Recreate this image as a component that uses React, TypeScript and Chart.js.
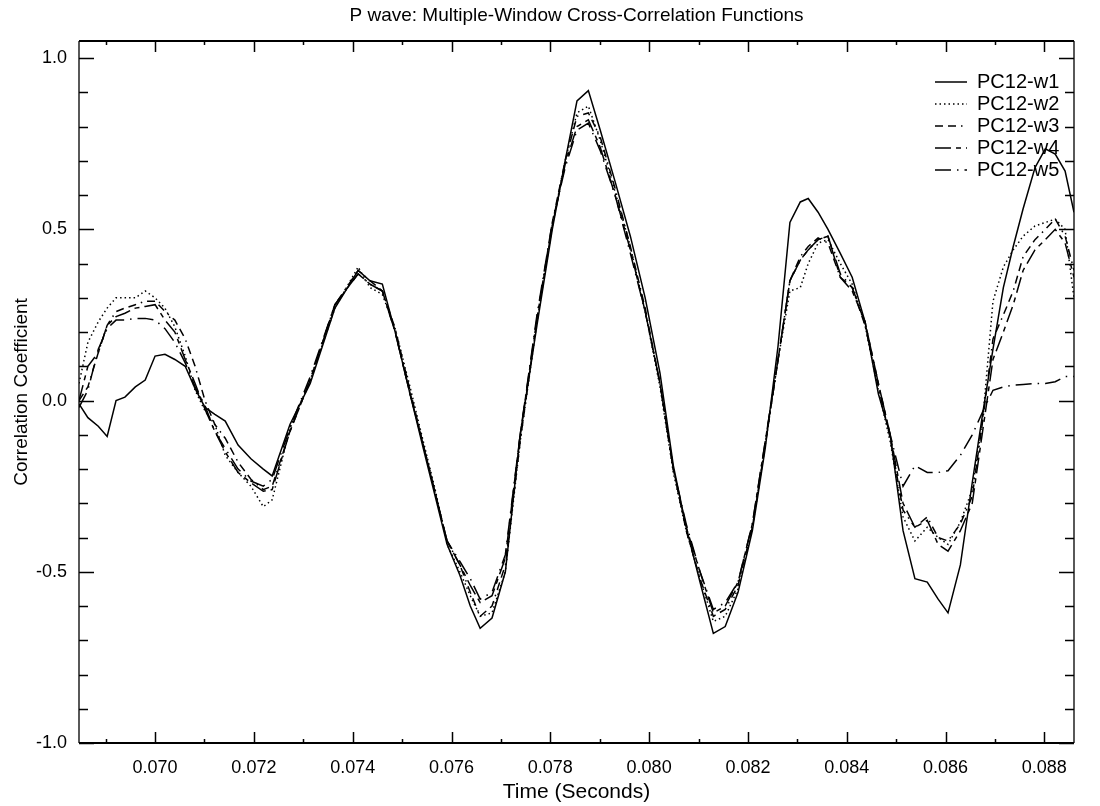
import React, { useEffect, useRef } from "react";
import { Chart, registerables } from "chart.js";

Chart.register(...registerables);

const chartTitle = "P wave: Multiple-Window Cross-Correlation Functions";
const xTitle = "Time (Seconds)";
const yTitle = "Correlation Coefficient";
const seriesNames = ["PC12-w1", "PC12-w2", "PC12-w3", "PC12-w4", "PC12-w5"];

const xTickValues = [0.070, 0.072, 0.074, 0.076, 0.078, 0.080, 0.082, 0.084, 0.086, 0.088];
const xTickLabels = ["0.070", "0.072", "0.074", "0.076", "0.078", "0.080", "0.082", "0.084", "0.086", "0.088"];
const yTickValues = [-1.0, -0.5, 0.0, 0.5, 1.0];
const yTickLabels = ["-1.0", "-0.5", "0.0", "0.5", "1.0"];

const times = [
  0.06846, 0.06864, 0.06885, 0.06903, 0.06921, 0.06939, 0.06960, 0.06980,
  0.07000, 0.07020, 0.07040, 0.07061, 0.07081, 0.07101, 0.07121, 0.07142,
  0.07168, 0.07194, 0.07219, 0.07237, 0.07273, 0.07314, 0.07364, 0.07411,
  0.07435, 0.07460, 0.07486, 0.07516, 0.07543, 0.07567, 0.07591, 0.07617,
  0.07638, 0.07658, 0.07682, 0.07709, 0.07739, 0.07773, 0.07804, 0.07830,
  0.07854, 0.07877, 0.07901, 0.07931, 0.07962, 0.07992, 0.08022, 0.08049,
  0.08075, 0.08103, 0.08130, 0.08154, 0.08180, 0.08209, 0.08235, 0.08261,
  0.08285, 0.08306, 0.08322, 0.08342, 0.08362, 0.08387, 0.08411, 0.08437,
  0.08464, 0.08488, 0.08514, 0.08538, 0.08563, 0.08585, 0.08605, 0.08630,
  0.08654, 0.08676, 0.08696, 0.08717, 0.08737, 0.08757, 0.08781, 0.08802,
  0.08822, 0.08842, 0.08860,
];

const w1 = [
  -0.01, -0.05, -0.075, -0.105, 0.0, 0.01, 0.04, 0.06,
  0.13, 0.135, 0.12, 0.10, 0.035, -0.02, -0.04, -0.06,
  -0.13, -0.17, -0.20, -0.22, -0.07, 0.05, 0.27, 0.38,
  0.35, 0.34, 0.20, 0.02, -0.14, -0.28, -0.42, -0.51,
  -0.60, -0.665, -0.635, -0.50, -0.10, 0.22, 0.50, 0.70,
  0.875, 0.905, 0.79, 0.64, 0.48, 0.30, 0.08, -0.19,
  -0.37, -0.53, -0.68, -0.66, -0.56, -0.38, -0.14, 0.16,
  0.52, 0.58, 0.59, 0.55, 0.50, 0.43, 0.36, 0.23,
  0.02, -0.10, -0.38, -0.52, -0.53, -0.58, -0.62, -0.48,
  -0.24, -0.03, 0.15, 0.33, 0.45, 0.56, 0.68, 0.735,
  0.72, 0.67, 0.55,
];

const w2 = [
  0.05, 0.17, 0.23, 0.27, 0.30, 0.30, 0.30, 0.32,
  0.30, 0.27, 0.215, 0.13, 0.03, -0.03, -0.07, -0.16,
  -0.21, -0.25, -0.31, -0.29, -0.08, 0.06, 0.27, 0.39,
  0.33, 0.31, 0.21, 0.04, -0.12, -0.26, -0.42, -0.50,
  -0.57, -0.63, -0.62, -0.50, -0.12, 0.23, 0.51, 0.70,
  0.84, 0.86, 0.76, 0.61, 0.45, 0.26, 0.04, -0.21,
  -0.38, -0.52, -0.645, -0.63, -0.55, -0.37, -0.13, 0.12,
  0.32, 0.33, 0.40, 0.46, 0.47, 0.40, 0.34, 0.22,
  0.03, -0.12, -0.34, -0.41, -0.37, -0.40, -0.42, -0.355,
  -0.26, -0.045, 0.29, 0.39, 0.44, 0.48, 0.51, 0.52,
  0.53, 0.50, 0.30,
];

const w3 = [
  0.0, 0.04, 0.14, 0.22, 0.26, 0.27, 0.28, 0.29,
  0.29, 0.26, 0.235, 0.18, 0.10, 0.0, -0.07, -0.11,
  -0.18, -0.23, -0.26, -0.25, -0.09, 0.06, 0.28, 0.38,
  0.35, 0.32, 0.21, 0.03, -0.13, -0.27, -0.41, -0.48,
  -0.56, -0.63, -0.60, -0.48, -0.12, 0.24, 0.52, 0.70,
  0.83, 0.84, 0.77, 0.62, 0.45, 0.27, 0.05, -0.20,
  -0.38, -0.52, -0.63, -0.61, -0.54, -0.37, -0.13, 0.12,
  0.35, 0.42, 0.45, 0.475, 0.46, 0.36, 0.33, 0.22,
  0.04, -0.11, -0.32, -0.37, -0.34, -0.40, -0.41, -0.36,
  -0.28, -0.05, 0.18, 0.25, 0.32, 0.42, 0.47, 0.50,
  0.53, 0.48, 0.38,
];

const w4 = [
  0.0, 0.10, 0.14, 0.22, 0.245, 0.255, 0.27, 0.275,
  0.28, 0.235, 0.20, 0.12, 0.05, -0.025, -0.09, -0.15,
  -0.21, -0.24, -0.265, -0.26, -0.09, 0.06, 0.28, 0.37,
  0.34, 0.32, 0.20, 0.02, -0.13, -0.27, -0.41, -0.48,
  -0.54, -0.59, -0.57, -0.46, -0.10, 0.24, 0.51, 0.69,
  0.80, 0.82, 0.74, 0.60, 0.44, 0.26, 0.05, -0.20,
  -0.37, -0.50, -0.62, -0.60, -0.53, -0.36, -0.12, 0.12,
  0.35, 0.41, 0.44, 0.47, 0.48, 0.36, 0.32, 0.23,
  0.05, -0.10, -0.30, -0.37, -0.35, -0.42, -0.44, -0.38,
  -0.30, -0.08, 0.12, 0.20, 0.28, 0.38, 0.44, 0.47,
  0.50, 0.46, 0.36,
];

const w5 = [
  -0.02, 0.03, 0.15, 0.21, 0.235, 0.235, 0.24, 0.24,
  0.235, 0.21, 0.17, 0.11, 0.04, -0.015, -0.09, -0.14,
  -0.20, -0.235, -0.25, -0.23, -0.08, 0.07, 0.28, 0.37,
  0.34, 0.32, 0.20, 0.02, -0.13, -0.27, -0.41, -0.47,
  -0.52, -0.58, -0.56, -0.45, -0.10, 0.25, 0.52, 0.68,
  0.79, 0.81, 0.73, 0.60, 0.43, 0.26, 0.05, -0.20,
  -0.36, -0.50, -0.61, -0.59, -0.53, -0.36, -0.12, 0.12,
  0.35, 0.41, 0.44, 0.47, 0.48, 0.37, 0.33, 0.23,
  0.05, -0.10, -0.25, -0.19, -0.21, -0.21, -0.205, -0.16,
  -0.10, -0.03, 0.03, 0.04, 0.045, 0.047, 0.05, 0.05,
  0.055, 0.07, 0.07,
];

const seriesValues = [w1, w2, w3, w4, w5];
const seriesDashes: number[][] = [
  [],
  [1.5, 3],
  [8, 5, 8, 5, 1.5, 5],
  [16, 5, 5, 5],
  [16, 6, 1.5, 6],
];

const FONT = '"Liberation Sans", Arial, sans-serif';

const frameTicks = {
  id: "frameTicks",
  afterDatasetsDraw(chart: any) {
    const { ctx, chartArea, scales } = chart;
    const { left, right, top, bottom } = chartArea;
    const x = scales.x;
    const y = scales.y;
    ctx.save();
    ctx.strokeStyle = "#000";
    ctx.setLineDash([]);
    ctx.lineWidth = 2.2;
    ctx.beginPath();
    ctx.moveTo(left, top);
    ctx.lineTo(right, top);
    ctx.moveTo(left, bottom);
    ctx.lineTo(right, bottom);
    ctx.stroke();
    ctx.lineWidth = 1.3;
    ctx.beginPath();
    ctx.moveTo(left, top);
    ctx.lineTo(left, bottom);
    ctx.moveTo(right, top);
    ctx.lineTo(right, bottom);
    ctx.stroke();
    ctx.lineWidth = 1.5;
    ctx.beginPath();
    for (let k = -10; k <= 10; k++) {
      const v = k / 10;
      const py = Math.round(y.getPixelForValue(v)) + 0.5;
      const len = k % 5 === 0 ? 15 : 9;
      ctx.moveTo(left, py);
      ctx.lineTo(left + len, py);
      ctx.moveTo(right, py);
      ctx.lineTo(right - len, py);
    }
    ctx.stroke();
    ctx.beginPath();
    for (let k = 69; k <= 88; k++) {
      const v = k / 1000;
      const px = Math.round(x.getPixelForValue(v)) + 0.5;
      const len = k % 2 === 0 ? 11 : 4;
      ctx.moveTo(px, bottom);
      ctx.lineTo(px, bottom - len);
      ctx.moveTo(px, top);
      ctx.lineTo(px, top + len);
    }
    ctx.stroke();
    ctx.restore();
  },
};

const innerLegend = {
  id: "innerLegend",
  afterDraw(chart: any) {
    const { ctx, chartArea } = chart;
    const { right, top } = chartArea;
    ctx.save();
    ctx.strokeStyle = "#000";
    ctx.fillStyle = "#000";
    ctx.lineWidth = 1.5;
    ctx.font = `20px ${FONT}`;
    ctx.textBaseline = "middle";
    ctx.textAlign = "left";
    chart.data.datasets.forEach((ds: any, i: number) => {
      const yy = top + 41 + i * 22;
      ctx.setLineDash(seriesDashes[i]);
      ctx.beginPath();
      ctx.moveTo(right - 139, yy);
      ctx.lineTo(right - 107, yy);
      ctx.stroke();
      ctx.setLineDash([]);
      ctx.fillText(ds.label, right - 97, yy);
    });
    ctx.restore();
  },
};

export default function App() {
  const canvasRef = useRef<HTMLCanvasElement | null>(null);

  useEffect(() => {
    if (!canvasRef.current) return;
    Chart.defaults.font.family = FONT;
    Chart.defaults.color = "#000";

    const datasets = seriesNames.map((name, i) => ({
      label: name,
      data: times.map((t, j) => ({ x: t, y: seriesValues[i][j] })),
      borderColor: "#000",
      backgroundColor: "#000",
      borderWidth: 1.5,
      borderDash: seriesDashes[i],
      pointRadius: 0,
      tension: 0,
      fill: false,
    }));

    const chart = new Chart(canvasRef.current, {
      type: "line",
      data: { datasets },
      plugins: [frameTicks, innerLegend],
      options: {
        animation: false,
        responsive: true,
        maintainAspectRatio: false,
        layout: { padding: { left: 0, right: 26, top: 0, bottom: 0 } },
        plugins: {
          legend: { display: false },
          tooltip: { enabled: false },
          title: {
            display: true,
            text: chartTitle,
            fullSize: false,
            color: "#000",
            font: { size: 19, weight: "normal", family: FONT },
            padding: { top: 4, bottom: 14.2 },
          },
        },
        scales: {
          x: {
            type: "linear",
            min: 0.06846,
            max: 0.0886,
            grid: { display: false },
            border: { display: false },
            afterBuildTicks: (scale: any) => {
              scale.ticks = xTickValues.map((v) => ({ value: v }));
            },
            afterFit: (scale: any) => {
              scale.height = 63;
            },
            ticks: {
              color: "#000",
              padding: 6,
              maxRotation: 0,
              autoSkip: false,
              font: { size: 18, family: FONT },
              callback: (_v: any, i: number) => xTickLabels[i],
            },
            title: {
              display: true,
              text: xTitle,
              color: "#000",
              font: { size: 21, family: FONT },
              padding: { top: 0, bottom: 1 },
            },
          },
          y: {
            type: "linear",
            min: -1.0,
            max: 1.05,
            grid: { display: false },
            border: { display: false },
            afterBuildTicks: (scale: any) => {
              scale.ticks = yTickValues.map((v) => ({ value: v }));
            },
            afterFit: (scale: any) => {
              scale.width = 79;
            },
            ticks: {
              color: "#000",
              padding: 4,
              autoSkip: false,
              font: { size: 18, family: FONT },
              callback: (_v: any, i: number) => yTickLabels[i],
            },
            title: {
              display: true,
              text: yTitle,
              color: "#000",
              font: { size: 19, family: FONT },
              padding: { top: 10, bottom: 0 },
            },
          },
        },
      },
    });
    return () => chart.destroy();
  }, []);

  return (
    <div style={{ position: "absolute", left: 0, top: 0, width: 1100, height: 806, background: "#fff" }}>
      <canvas ref={canvasRef} />
    </div>
  );
}
